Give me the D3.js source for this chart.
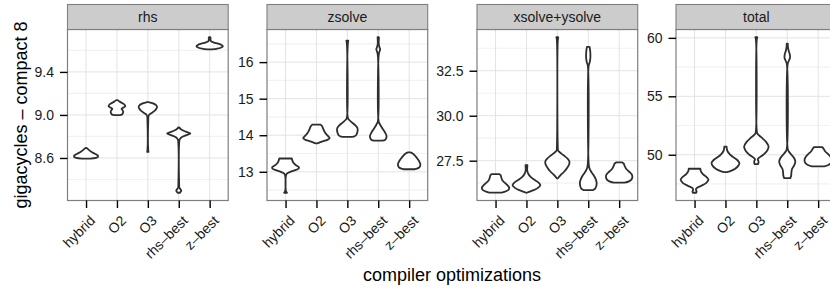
<!DOCTYPE html>
<html>
<head>
<meta charset="utf-8">
<script src="https://cdn.jsdelivr.net/npm/d3@7"></script>
<style>
body { margin: 0; background: #fff; }
text { font-family: "Liberation Sans", Arial, Helvetica, sans-serif; }
</style>
</head>
<body>
<svg id="chart"></svg>
<script>
// categories on x, one panel per code section
const categories = ["hybrid", "O2", "O3", "rhs-best", "z-best"]
const panel_names = ["rhs", "zsolve", "xsolve+ysolve", "total"]

// y ticks per panel
const rhs_ticks = [8.6, 9.0, 9.4]
const zsolve_ticks = [13, 14, 15, 16]
const xysolve_ticks = [27.5, 30.0, 32.5]
const total_ticks = [50, 55, 60]
const tick_formats = [".1f", "d", ".1f", "d"]

// violin outlines: [value, relative half width]
const rhs_violins = [
    [[8.594,0.3],[8.600,0.7],[8.61,0.85],[8.62,0.86],[8.632,0.75],[8.645,0.55],[8.66,0.35],[8.675,0.2],[8.69,0.07],[8.694,0]],
    [[8.999,0.2],[9.003,0.35],[9.015,0.42],[9.03,0.45],[9.045,0.4],[9.058,0.33],[9.068,0.45],[9.08,0.6],[9.095,0.55],[9.11,0.38],[9.125,0.18],[9.138,0.05]],
    [[8.656,0.05],[8.67,0.03],[8.95,0.03],[8.99,0.05],[9.005,0.12],[9.02,0.3],[9.04,0.5],[9.06,0.62],[9.075,0.66],[9.09,0.6],[9.103,0.45],[9.113,0.25],[9.12,0.05]],
    [[8.277,0.08],[8.285,0.14],[8.297,0.18],[8.31,0.12],[8.325,0.04],[8.35,0.03],[8.74,0.03],[8.77,0.06],[8.79,0.18],[8.81,0.5],[8.828,0.84],[8.845,0.5],[8.865,0.18],[8.885,0.03]],
    [[9.609,0.15],[9.615,0.5],[9.625,0.8],[9.638,0.95],[9.65,0.85],[9.662,0.6],[9.673,0.3],[9.685,0.1],[9.695,0.05],[9.71,0.07],[9.722,0.05]]
]
const zsolve_violins = [
    [[12.427,0.1],[12.44,0.08],[12.47,0.03],[12.9,0.03],[12.95,0.1],[12.99,0.3],[13.04,0.65],[13.09,0.95],[13.13,0.95],[13.18,0.75],[13.24,0.58],[13.3,0.5],[13.364,0.45]],
    [[13.775,0.03],[13.8,0.2],[13.84,0.5],[13.88,0.82],[13.92,0.95],[13.97,0.85],[14.03,0.7],[14.1,0.58],[14.18,0.48],[14.25,0.4],[14.29,0.3]],
    [[13.955,0.35],[13.97,0.5],[14.0,0.62],[14.06,0.7],[14.12,0.74],[14.2,0.72],[14.28,0.55],[14.36,0.3],[14.43,0.1],[14.48,0.035],[16.5,0.035],[16.59,0.07]],
    [[13.85,0.3],[13.87,0.48],[13.91,0.56],[13.96,0.6],[14.02,0.56],[14.1,0.45],[14.2,0.28],[14.3,0.12],[14.37,0.035],[16.2,0.035],[16.28,0.08],[16.35,0.14],[16.42,0.08],[16.5,0.035],[16.68,0.05]],
    [[13.07,0.42],[13.1,0.65],[13.15,0.78],[13.22,0.8],[13.3,0.7],[13.38,0.55],[13.45,0.4],[13.5,0.25],[13.53,0.08]]
]
const xysolve_violins = [
    [[25.73,0.45],[25.8,0.75],[25.9,0.95],[26.0,0.98],[26.1,0.9],[26.25,0.7],[26.4,0.5],[26.55,0.42],[26.7,0.36],[26.75,0.28]],
    [[25.72,0.02],[25.8,0.3],[25.9,0.62],[26.0,0.85],[26.15,1.0],[26.3,0.85],[26.45,0.55],[26.6,0.3],[26.75,0.15],[26.9,0.07],[27.05,0.05],[27.15,0.06],[27.25,0.07]],
    [[26.52,0.04],[26.6,0.12],[26.75,0.3],[26.9,0.5],[27.1,0.7],[27.3,0.85],[27.45,0.87],[27.6,0.75],[27.8,0.45],[27.95,0.2],[28.08,0.05],[28.2,0.035],[34.2,0.035],[34.36,0.07]],
    [[25.87,0.35],[25.95,0.5],[26.1,0.58],[26.3,0.6],[26.5,0.52],[26.7,0.38],[26.9,0.2],[27.1,0.08],[27.3,0.035],[32.8,0.035],[32.95,0.1],[33.2,0.15],[33.5,0.15],[33.72,0.12],[33.83,0.09]],
    [[26.28,0.4],[26.35,0.7],[26.45,0.88],[26.6,0.95],[26.75,0.9],[26.9,0.7],[27.05,0.5],[27.2,0.4],[27.35,0.32],[27.41,0.2]]
]
const total_violins = [
    [[46.75,0.12],[46.85,0.15],[47.0,0.1],[47.15,0.15],[47.35,0.5],[47.6,0.85],[47.85,1.0],[48.1,0.85],[48.35,0.6],[48.6,0.45],[48.8,0.42]],
    [[48.52,0.1],[48.6,0.35],[48.8,0.7],[49.1,0.95],[49.3,1.0],[49.55,0.85],[49.8,0.55],[50.05,0.3],[50.3,0.15],[50.5,0.1],[50.7,0.08]],
    [[49.2,0.12],[49.3,0.15],[49.45,0.15],[49.6,0.1],[49.75,0.2],[50.0,0.5],[50.3,0.75],[50.7,0.88],[51.1,0.7],[51.5,0.35],[51.8,0.08],[52.0,0.035],[59.9,0.035],[60.05,0.07]],
    [[48.0,0.22],[48.2,0.28],[48.5,0.3],[48.8,0.35],[49.1,0.5],[49.4,0.58],[49.7,0.5],[50.0,0.3],[50.3,0.1],[50.5,0.035],[57.8,0.035],[58.0,0.1],[58.3,0.2],[58.6,0.18],[58.9,0.1],[59.2,0.05],[59.5,0.04]],
    [[49.0,0.45],[49.1,0.7],[49.3,0.92],[49.55,0.98],[49.8,0.9],[50.05,0.72],[50.3,0.5],[50.5,0.4],[50.65,0.3]]
]

const all_ticks = [rhs_ticks, zsolve_ticks, xysolve_ticks, total_ticks]
const all_violins = [rhs_violins, zsolve_violins, xysolve_violins, total_violins]

const width = 830, height = 291
const panel_left = [67.5, 267, 477, 676]
const panel_w = 160.7
const strip_top = 4.5, panel_top = 29.5, panel_bottom = 200.5
const tick_len = 7.5

let svg = d3.select("#chart")
    .attr("width", width)
    .attr("height", height)

for (let p = 0; p < panel_names.length; p++) {
    let left = panel_left[p]
    let violins = all_violins[p]
    let ticks = all_ticks[p]

    let x = d3.scalePoint()
        .domain(categories)
        .range([left, left + panel_w])
        .padding(0.6)

    // free y scale, ggplot style 5% expansion
    let lo = d3.min(violins, v => v[0][0])
    let hi = d3.max(violins, v => v[v.length - 1][0])
    let pad = (hi - lo) * 0.05
    let y = d3.scaleLinear()
        .domain([lo - pad, hi + pad])
        .range([panel_bottom, panel_top])

    let half = x.step() * 0.45
    let g = svg.append("g")

    // minor grid halfway between majors
    let step = ticks[1] - ticks[0]
    let minor = [ticks[0] - step / 2].concat(ticks.map(t => t + step / 2))
        .filter(t => t > lo - pad && t < hi + pad)

    g.append("g")
        .selectAll("line")
        .data(minor)
        .enter().append("line")
        .attr("x1", left).attr("x2", left + panel_w)
        .attr("y1", d => y(d)).attr("y2", d => y(d))
        .attr("stroke", "#f2f2f2")
        .attr("stroke-width", 1.2)

    g.append("g")
        .selectAll("line")
        .data(ticks)
        .enter().append("line")
        .attr("x1", left).attr("x2", left + panel_w)
        .attr("y1", d => y(d)).attr("y2", d => y(d))
        .attr("stroke", "#e3e3e3")
        .attr("stroke-width", 1)

    g.append("g")
        .selectAll("line")
        .data(categories)
        .enter().append("line")
        .attr("x1", d => x(d)).attr("x2", d => x(d))
        .attr("y1", panel_top).attr("y2", panel_bottom)
        .attr("stroke", "#e3e3e3")
        .attr("stroke-width", 1)

    // violins
    let area = d3.area()
        .curve(d3.curveCatmullRom.alpha(0.5))
        .y(d => y(d[0]))

    g.append("g")
        .selectAll("path")
        .data(violins)
        .enter().append("path")
        .attr("d", (v, i) => {
            let cx = x(categories[i])
            return area.x0(d => cx - d[1] * half).x1(d => cx + d[1] * half)(v)
        })
        .attr("fill", "#fff")
        .attr("stroke", "#2e2e2e")
        .attr("stroke-width", 1.8)
        .attr("stroke-linejoin", "round")

    // panel border + strip
    g.append("rect")
        .attr("x", left).attr("y", panel_top)
        .attr("width", panel_w).attr("height", panel_bottom - panel_top)
        .attr("fill", "none")
        .attr("stroke", "#7f7f7f")
        .attr("stroke-width", 1.2)

    g.append("rect")
        .attr("x", left).attr("y", strip_top)
        .attr("width", panel_w).attr("height", panel_top - strip_top)
        .attr("fill", "#cccccc")
        .attr("stroke", "#7f7f7f")
        .attr("stroke-width", 1.1)

    g.append("text")
        .attr("x", left + panel_w / 2)
        .attr("y", (strip_top + panel_top) / 2)
        .attr("dy", "0.35em")
        .attr("text-anchor", "middle")
        .attr("font-size", "14px")
        .attr("fill", "#1a1a1a")
        .text(panel_names[p])

    // y axis
    let yaxis = g.append("g")
        .attr("transform", `translate(${left},0)`)
        .call(d3.axisLeft(y).tickValues(ticks).tickSize(tick_len).tickPadding(6)
            .tickFormat(d3.format(tick_formats[p])))
    yaxis.select(".domain").remove()
    yaxis.selectAll("line").attr("stroke", "#000").attr("stroke-width", 1.4)
    yaxis.selectAll("text").attr("font-size", "14px").attr("fill", "#1a1a1a")
        .attr("font-family", null)

    // x axis
    let xaxis = g.append("g")
        .attr("transform", `translate(0,${panel_bottom})`)
        .call(d3.axisBottom(x).tickSize(tick_len).tickFormat(""))
    xaxis.select(".domain").remove()
    xaxis.selectAll("line").attr("stroke", "#000").attr("stroke-width", 1.4)

    g.append("g")
        .selectAll("text")
        .data(categories)
        .enter().append("text")
        .attr("transform", d => `translate(${x(d) + 3},${panel_bottom + 14}) rotate(-45)`)
        .attr("text-anchor", "end")
        .attr("dy", "0.71em")
        .attr("font-size", "14px")
        .attr("fill", "#1a1a1a")
        .text(d => d.replace("-", "\u2013"))
}

// axis titles
svg.append("text")
    .attr("transform", `translate(27,${(panel_top + panel_bottom) / 2}) rotate(-90)`)
    .attr("text-anchor", "middle")
    .attr("font-size", "18px")
    .text("gigacycles \u2013 compact 8")

svg.append("text")
    .attr("x", (panel_left[0] + panel_left[3] + panel_w) / 2)
    .attr("y", 281)
    .attr("text-anchor", "middle")
    .attr("font-size", "18px")
    .text("compiler optimizations")
</script>
</body>
</html>
